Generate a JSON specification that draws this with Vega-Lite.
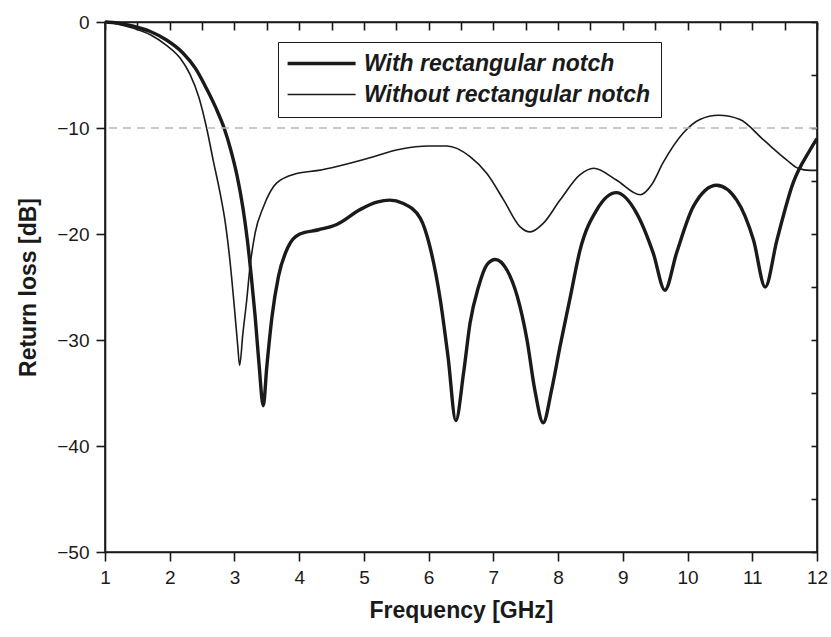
{
  "$schema": "https://vega.github.io/schema/vega-lite/v6.json",
  "width": 712,
  "height": 530,
  "autosize": "none",
  "padding": {"left": 105, "top": 22, "right": 14, "bottom": 85},
  "background": "white",
  "view": {"stroke": "#1a1a1a", "strokeWidth": 1.6},
  "config": {
    "font": "Liberation Sans",
    "axis": {
      "grid": false,
      "domainColor": "#1a1a1a",
      "domainWidth": 1.6,
      "tickColor": "#1a1a1a",
      "tickWidth": 1.6,
      "labelFont": "Liberation Sans",
      "labelFontSize": 19,
      "labelColor": "#1a1a1a",
      "titleFont": "Liberation Sans",
      "titleFontSize": 23,
      "titleFontWeight": "bold",
      "titleColor": "#1a1a1a",
      "labelFlush": false,
      "labelOverlap": false
    }
  },
  "data": {
    "values": [
      {"freq": 1.0, "rl": 0, "series": "With rectangular notch"},
      {"freq": 1.2, "rl": -0.1, "series": "With rectangular notch"},
      {"freq": 1.44, "rl": -0.4, "series": "With rectangular notch"},
      {"freq": 1.7, "rl": -0.9, "series": "With rectangular notch"},
      {"freq": 1.95, "rl": -1.7, "series": "With rectangular notch"},
      {"freq": 2.2, "rl": -2.9, "series": "With rectangular notch"},
      {"freq": 2.4, "rl": -4.4, "series": "With rectangular notch"},
      {"freq": 2.57, "rl": -6.3, "series": "With rectangular notch"},
      {"freq": 2.72, "rl": -8.2, "series": "With rectangular notch"},
      {"freq": 2.84, "rl": -10.0, "series": "With rectangular notch"},
      {"freq": 2.94, "rl": -12.0, "series": "With rectangular notch"},
      {"freq": 3.04, "rl": -14.5, "series": "With rectangular notch"},
      {"freq": 3.13, "rl": -17.5, "series": "With rectangular notch"},
      {"freq": 3.2, "rl": -20.6, "series": "With rectangular notch"},
      {"freq": 3.26, "rl": -24.0, "series": "With rectangular notch"},
      {"freq": 3.32, "rl": -27.8, "series": "With rectangular notch"},
      {"freq": 3.38, "rl": -32.3, "series": "With rectangular notch"},
      {"freq": 3.445, "rl": -36.2, "series": "With rectangular notch"},
      {"freq": 3.5, "rl": -32.5, "series": "With rectangular notch"},
      {"freq": 3.58, "rl": -27.8, "series": "With rectangular notch"},
      {"freq": 3.68, "rl": -24.0, "series": "With rectangular notch"},
      {"freq": 3.83, "rl": -21.2, "series": "With rectangular notch"},
      {"freq": 4.01, "rl": -20.0, "series": "With rectangular notch"},
      {"freq": 4.3, "rl": -19.6, "series": "With rectangular notch"},
      {"freq": 4.58, "rl": -19.1, "series": "With rectangular notch"},
      {"freq": 4.94, "rl": -17.7, "series": "With rectangular notch"},
      {"freq": 5.2, "rl": -17.0, "series": "With rectangular notch"},
      {"freq": 5.4, "rl": -16.8, "series": "With rectangular notch"},
      {"freq": 5.6, "rl": -17.1, "series": "With rectangular notch"},
      {"freq": 5.87, "rl": -18.5, "series": "With rectangular notch"},
      {"freq": 6.02, "rl": -21.2, "series": "With rectangular notch"},
      {"freq": 6.18, "rl": -26.2, "series": "With rectangular notch"},
      {"freq": 6.3, "rl": -31.6, "series": "With rectangular notch"},
      {"freq": 6.42, "rl": -37.6, "series": "With rectangular notch"},
      {"freq": 6.54, "rl": -33.1, "series": "With rectangular notch"},
      {"freq": 6.64, "rl": -28.4, "series": "With rectangular notch"},
      {"freq": 6.77, "rl": -25.0, "series": "With rectangular notch"},
      {"freq": 6.9, "rl": -22.9, "series": "With rectangular notch"},
      {"freq": 7.03, "rl": -22.4, "series": "With rectangular notch"},
      {"freq": 7.21, "rl": -23.4, "series": "With rectangular notch"},
      {"freq": 7.37, "rl": -25.9, "series": "With rectangular notch"},
      {"freq": 7.52, "rl": -30.0, "series": "With rectangular notch"},
      {"freq": 7.64, "rl": -34.7, "series": "With rectangular notch"},
      {"freq": 7.77, "rl": -37.8, "series": "With rectangular notch"},
      {"freq": 7.9, "rl": -34.7, "series": "With rectangular notch"},
      {"freq": 8.03, "rl": -30.6, "series": "With rectangular notch"},
      {"freq": 8.18, "rl": -26.2, "series": "With rectangular notch"},
      {"freq": 8.34, "rl": -21.5, "series": "With rectangular notch"},
      {"freq": 8.6, "rl": -17.7, "series": "With rectangular notch"},
      {"freq": 8.9, "rl": -16.1, "series": "With rectangular notch"},
      {"freq": 9.21, "rl": -18.0, "series": "With rectangular notch"},
      {"freq": 9.47, "rl": -21.8, "series": "With rectangular notch"},
      {"freq": 9.65, "rl": -25.3, "series": "With rectangular notch"},
      {"freq": 9.83, "rl": -21.8, "series": "With rectangular notch"},
      {"freq": 10.09, "rl": -17.4, "series": "With rectangular notch"},
      {"freq": 10.45, "rl": -15.4, "series": "With rectangular notch"},
      {"freq": 10.76, "rl": -16.8, "series": "With rectangular notch"},
      {"freq": 11.02, "rl": -20.6, "series": "With rectangular notch"},
      {"freq": 11.2, "rl": -25.0, "series": "With rectangular notch"},
      {"freq": 11.38, "rl": -20.6, "series": "With rectangular notch"},
      {"freq": 11.63, "rl": -15.2, "series": "With rectangular notch"},
      {"freq": 11.89, "rl": -12.1, "series": "With rectangular notch"},
      {"freq": 12.0, "rl": -11.0, "series": "With rectangular notch"},
      {"freq": 1.0, "rl": 0, "series": "Without rectangular notch"},
      {"freq": 1.2, "rl": -0.2, "series": "Without rectangular notch"},
      {"freq": 1.44, "rl": -0.6, "series": "Without rectangular notch"},
      {"freq": 1.7, "rl": -1.2, "series": "Without rectangular notch"},
      {"freq": 1.95, "rl": -2.2, "series": "Without rectangular notch"},
      {"freq": 2.16, "rl": -3.4, "series": "Without rectangular notch"},
      {"freq": 2.31, "rl": -4.9, "series": "Without rectangular notch"},
      {"freq": 2.45, "rl": -7.1, "series": "Without rectangular notch"},
      {"freq": 2.57, "rl": -10.0, "series": "Without rectangular notch"},
      {"freq": 2.67, "rl": -13.0, "series": "Without rectangular notch"},
      {"freq": 2.78, "rl": -16.2, "series": "Without rectangular notch"},
      {"freq": 2.86, "rl": -19.0, "series": "Without rectangular notch"},
      {"freq": 2.93, "rl": -22.5, "series": "Without rectangular notch"},
      {"freq": 3.0, "rl": -27.0, "series": "Without rectangular notch"},
      {"freq": 3.05, "rl": -30.5, "series": "Without rectangular notch"},
      {"freq": 3.08, "rl": -32.4, "series": "Without rectangular notch"},
      {"freq": 3.13, "rl": -29.4, "series": "Without rectangular notch"},
      {"freq": 3.19, "rl": -26.2, "series": "Without rectangular notch"},
      {"freq": 3.24, "rl": -23.1, "series": "Without rectangular notch"},
      {"freq": 3.32, "rl": -19.9, "series": "Without rectangular notch"},
      {"freq": 3.45, "rl": -17.4, "series": "Without rectangular notch"},
      {"freq": 3.65, "rl": -15.2, "series": "Without rectangular notch"},
      {"freq": 3.96, "rl": -14.3, "series": "Without rectangular notch"},
      {"freq": 4.3, "rl": -14.0, "series": "Without rectangular notch"},
      {"freq": 4.6, "rl": -13.6, "series": "Without rectangular notch"},
      {"freq": 5.04, "rl": -12.9, "series": "Without rectangular notch"},
      {"freq": 5.56, "rl": -12.0, "series": "Without rectangular notch"},
      {"freq": 6.0, "rl": -11.7, "series": "Without rectangular notch"},
      {"freq": 6.28, "rl": -11.7, "series": "Without rectangular notch"},
      {"freq": 6.64, "rl": -12.7, "series": "Without rectangular notch"},
      {"freq": 6.9, "rl": -14.3, "series": "Without rectangular notch"},
      {"freq": 7.16, "rl": -16.8, "series": "Without rectangular notch"},
      {"freq": 7.41, "rl": -19.3, "series": "Without rectangular notch"},
      {"freq": 7.57, "rl": -19.8, "series": "Without rectangular notch"},
      {"freq": 7.77, "rl": -19.0, "series": "Without rectangular notch"},
      {"freq": 8.03, "rl": -16.8, "series": "Without rectangular notch"},
      {"freq": 8.34, "rl": -14.4, "series": "Without rectangular notch"},
      {"freq": 8.55, "rl": -13.8, "series": "Without rectangular notch"},
      {"freq": 8.9, "rl": -14.9, "series": "Without rectangular notch"},
      {"freq": 9.27, "rl": -16.3, "series": "Without rectangular notch"},
      {"freq": 9.45, "rl": -15.3, "series": "Without rectangular notch"},
      {"freq": 9.62, "rl": -13.3, "series": "Without rectangular notch"},
      {"freq": 9.93, "rl": -10.5, "series": "Without rectangular notch"},
      {"freq": 10.19, "rl": -9.2, "series": "Without rectangular notch"},
      {"freq": 10.48, "rl": -8.8, "series": "Without rectangular notch"},
      {"freq": 10.81, "rl": -9.2, "series": "Without rectangular notch"},
      {"freq": 11.17, "rl": -11.1, "series": "Without rectangular notch"},
      {"freq": 11.53, "rl": -13.0, "series": "Without rectangular notch"},
      {"freq": 11.71, "rl": -13.8, "series": "Without rectangular notch"},
      {"freq": 11.89, "rl": -14.0, "series": "Without rectangular notch"},
      {"freq": 12.0, "rl": -14.0, "series": "Without rectangular notch"}
    ]
  },
  "layer": [
    {
      "mark": {"type": "line", "interpolate": "monotone", "color": "#1a1a1a"},
      "encoding": {
        "x": {
          "field": "freq", "type": "quantitative",
          "scale": {"domain": [1, 12], "nice": false, "zero": false},
          "axis": {
            "orient": "bottom",
            "title": "Frequency [GHz]",
            "tickCount": 11,
            "format": "d",
            "tickSize": 9,
            "labelPadding": 7,
            "titlePadding": 12
          }
        },
        "y": {
          "field": "rl", "type": "quantitative",
          "scale": {"domain": [-50, 0], "nice": false, "zero": false},
          "axis": {
            "orient": "left",
            "title": "Return loss [dB]",
            "tickCount": 5,
            "format": "d",
            "tickSize": 9,
            "labelPadding": 7,
            "titlePadding": 16
          }
        },
        "strokeWidth": {
          "field": "series", "type": "ordinal",
          "scale": {"domain": ["With rectangular notch", "Without rectangular notch"], "range": [3.4, 1.6]},
          "legend": {
            "title": null,
            "orient": "none",
            "legendX": 173,
            "legendY": 20,
            "padding": 10,
            "strokeColor": "#1a1a1a",
            "symbolType": "M-1.4,0H6.6",
            "symbolSize": 289,
            "symbolStrokeColor": "#1a1a1a",
            "labelOffset": 53,
            "labelFont": "Liberation Sans",
            "labelFontSize": 23,
            "labelFontStyle": "italic",
            "labelFontWeight": "bold",
            "labelColor": "#1a1a1a",
            "labelLimit": 500,
            "rowPadding": 7
          }
        }
      }
    },
    {
      "mark": {"type": "line", "strokeOpacity": 0},
      "encoding": {
        "x": {
          "field": "freq", "type": "quantitative",
          "axis": {
            "orient": "top", "title": null,
            "tickCount": 22,
            "labelColor": "transparent",
            "tickSize": -8
          }
        },
        "y": {
          "field": "rl", "type": "quantitative",
          "axis": {
            "orient": "right", "title": null,
            "tickCount": 10,
            "labelColor": "transparent",
            "tickSize": -6
          }
        },
        "detail": {"field": "series", "type": "nominal"}
      }
    },
    {
      "data": {"values": [{"level": -10}]},
      "mark": {"type": "rule", "color": "#b8b8b8", "strokeWidth": 1.3, "strokeDash": [8, 6]},
      "encoding": {
        "y": {"field": "level", "type": "quantitative", "axis": null}
      }
    }
  ],
  "resolve": {"axis": {"x": "independent", "y": "independent"}}
}
